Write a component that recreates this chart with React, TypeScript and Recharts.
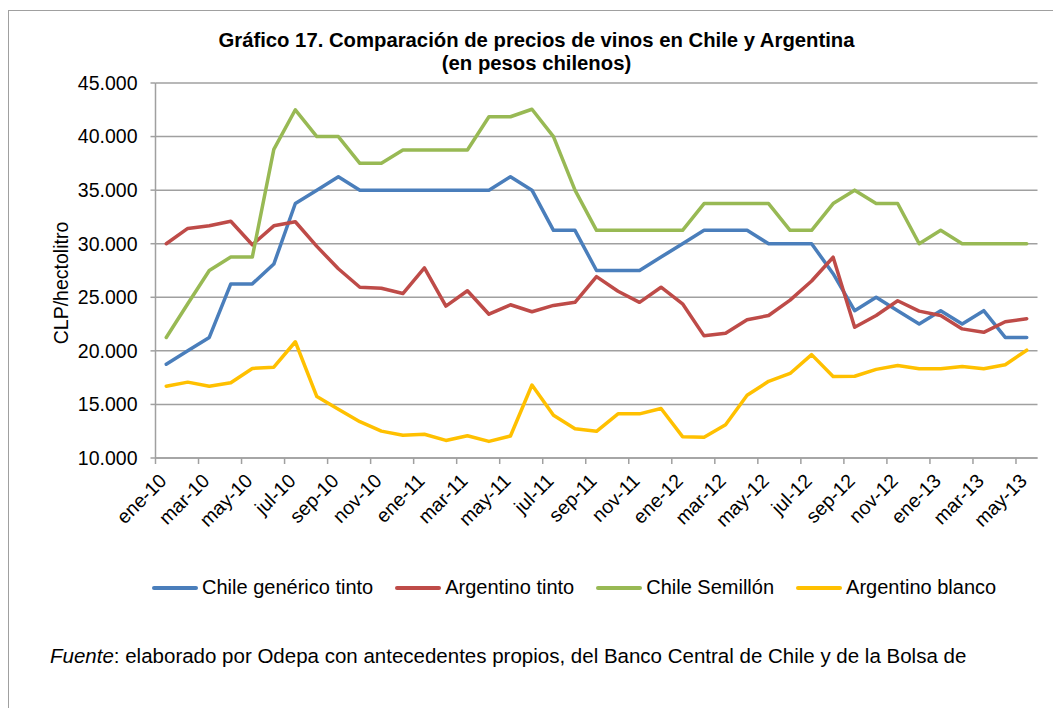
import { LineChart, Line, XAxis, YAxis, CartesianGrid, Legend } from "recharts";

const MONTHS = [
  "ene-10", "feb-10", "mar-10", "abr-10", "may-10", "jun-10", "jul-10", "ago-10", "sep-10", "oct-10", "nov-10", "dic-10",
  "ene-11", "feb-11", "mar-11", "abr-11", "may-11", "jun-11", "jul-11", "ago-11", "sep-11", "oct-11", "nov-11", "dic-11",
  "ene-12", "feb-12", "mar-12", "abr-12", "may-12", "jun-12", "jul-12", "ago-12", "sep-12", "oct-12", "nov-12", "dic-12",
  "ene-13", "feb-13", "mar-13", "abr-13", "may-13",
];

const CHILE_TINTO = [
  18750, 20000, 21250, 26250, 26250, 28100, 33750, 35000, 36250, 35000, 35000, 35000,
  35000, 35000, 35000, 35000, 36250, 35000, 31250, 31250, 27500, 27500, 27500, 28750,
  30000, 31250, 31250, 31250, 30000, 30000, 30000, 27200, 23750, 25000, 23750, 22500,
  23750, 22500, 23750, 21250, 21250,
];

const ARG_TINTO = [
  30000, 31430, 31670, 32100, 29900, 31670, 32050, 29750, 27660, 25940, 25850, 25350,
  27750, 24180, 25610, 23420, 24300, 23650, 24240, 24530, 26930, 25560, 24530, 25940,
  24390, 21400, 21640, 22900, 23300, 24740, 26520, 28740, 22200, 23300, 24680, 23710,
  23300, 22050, 21730, 22720, 23000,
];

const CHILE_SEMILLON = [
  21250, 24400, 27500, 28750, 28750, 38800, 42500, 40000, 40000, 37500, 37500, 38750,
  38750, 38750, 38750, 41850, 41850, 42550, 40000, 35000, 31250, 31250, 31250, 31250,
  31250, 33750, 33750, 33750, 33750, 31250, 31250, 33750, 35000, 33750, 33750, 30000,
  31250, 30000, 30000, 30000, 30000,
];

const ARG_BLANCO = [
  16700, 17080, 16700, 17020, 18360, 18480, 20850, 15730, 14560, 13390, 12510, 12130,
  12220, 11640, 12080, 11550, 12050, 16810, 13980, 12720, 12490, 14120, 14120, 14620,
  11990, 11930, 13100, 15850, 17160, 17890, 19650, 17600, 17630, 18270, 18630, 18330,
  18330, 18540, 18330, 18710, 20060,
];

const Y_TICKS = [10000, 15000, 20000, 25000, 30000, 35000, 40000, 45000];

const SERIES = [
  { key: "chileTinto", name: "Chile genérico tinto", color: "#4a7ebb" },
  { key: "argTinto", name: "Argentino tinto", color: "#be4b48" },
  { key: "chileSemillon", name: "Chile Semillón", color: "#98b954" },
  { key: "argBlanco", name: "Argentino blanco", color: "#ffc000" },
];

const data = MONTHS.map((m, i) => ({
  month: m,
  chileTinto: CHILE_TINTO[i],
  argTinto: ARG_TINTO[i],
  chileSemillon: CHILE_SEMILLON[i],
  argBlanco: ARG_BLANCO[i],
}));

const W = 1053;
const H = 708;
const PLOT_LEFT = 155.5;
const PLOT_RIGHT = 1037.5;
const PLOT_TOP = 83;
const PLOT_BOTTOM = 482;
const PLOT_W = PLOT_RIGHT - PLOT_LEFT;
const STEP = PLOT_W / MONTHS.length;
const FONT = "'Liberation Sans', Arial, sans-serif";
const GRID = "#a0a0a0";

function fmt(v: number): string {
  return String(v).replace(/\B(?=(\d{3})+(?!\d))/g, ".");
}

function MonthTick(props: any) {
  const { x, y, payload } = props;
  const tx = x - STEP / 2;
  return (
    <g>
      <line x1={tx} x2={tx} y1={y} y2={y + 6} stroke={GRID} strokeWidth={1.5} />
      <text
        x={x + 1.5}
        y={y + 24}
        transform={`rotate(-45 ${x + 1.5} ${y + 24})`}
        textAnchor="end"
        fontFamily={FONT}
        fontSize={19.5}
        fill="#000"
      >
        {payload.value}
      </text>
    </g>
  );
}

function LegendContent() {
  return (
    <div style={{ display: "flex", gap: 22, fontFamily: FONT, fontSize: 20, color: "#000", whiteSpace: "nowrap" }}>
      {SERIES.map((s) => (
        <div key={s.key} style={{ display: "flex", alignItems: "center" }}>
          <span style={{ display: "inline-block", width: 46, height: 4, borderRadius: 2, background: s.color, marginRight: 4 }} />
          <span>{s.name}</span>
        </div>
      ))}
    </div>
  );
}

export default function App() {
  return (
    <div style={{ position: "absolute", left: 0, top: 0, width: W, height: H, overflow: "hidden", background: "#fff" }}>
      <div
        style={{
          position: "absolute", left: 8, top: 10, width: W + 20, height: H + 20,
          border: "1.5px solid #a0a0a0", boxSizing: "border-box",
        }}
      />
      <div
        style={{
          position: "absolute", left: 0, top: 29, width: 1073, textAlign: "center",
          fontFamily: FONT, fontWeight: "bold", fontSize: 20.3, lineHeight: "22.5px", color: "#000",
        }}
      >
        Gráfico 17. Comparación de precios de vinos en Chile y Argentina
        <br />
        (en pesos chilenos)
      </div>
      <div
        style={{
          position: "absolute", left: 61, top: 283, transform: "translate(-50%, -50%) rotate(-90deg)",
          fontFamily: FONT, fontSize: 19.5, color: "#000", whiteSpace: "nowrap",
        }}
      >
        CLP/hectolitro
      </div>
      <div style={{ position: "absolute", left: 0, top: 0 }}>
        <LineChart
          width={W}
          height={H}
          data={data}
          margin={{ top: PLOT_TOP, right: W - PLOT_RIGHT, bottom: H - PLOT_BOTTOM, left: PLOT_LEFT - 60 }}
        >
          <CartesianGrid vertical={false} stroke={GRID} strokeWidth={1.5} />
          <XAxis
            dataKey="month"
            interval={1}
            padding={{ left: STEP / 2, right: STEP / 2 }}
            axisLine={{ stroke: GRID, strokeWidth: 1.5 }}
            tickLine={false}
            tickSize={0}
            tickMargin={0}
            height={1}
            tick={<MonthTick />}
          />
          <YAxis
            width={60}
            domain={[10000, 45000]}
            ticks={Y_TICKS}
            tickFormatter={fmt}
            axisLine={{ stroke: GRID, strokeWidth: 1.5 }}
            tickLine={{ stroke: GRID, strokeWidth: 1.5 }}
            tickSize={5}
            tickMargin={13}
            tick={{ fontFamily: FONT, fontSize: 19.5, fill: "#000" }}
          />
          <Legend
            content={<LegendContent />}
            wrapperStyle={{ position: "absolute", left: 152, top: 576, width: "auto" }}
          />
          {SERIES.map((s) => (
            <Line
              key={s.key}
              type="linear"
              dataKey={s.key}
              name={s.name}
              stroke={s.color}
              strokeWidth={3.5}
              strokeLinejoin="round"
              strokeLinecap="round"
              dot={false}
              activeDot={false}
              isAnimationActive={false}
            />
          ))}
        </LineChart>
      </div>
      <div
        style={{
          position: "absolute", left: 50, top: 644, fontFamily: FONT, fontSize: 20.5, color: "#000", whiteSpace: "nowrap",
        }}
      >
        <i>Fuente</i>: elaborado por Odepa con antecedentes propios, del Banco Central de Chile y de la Bolsa de
      </div>
    </div>
  );
}
